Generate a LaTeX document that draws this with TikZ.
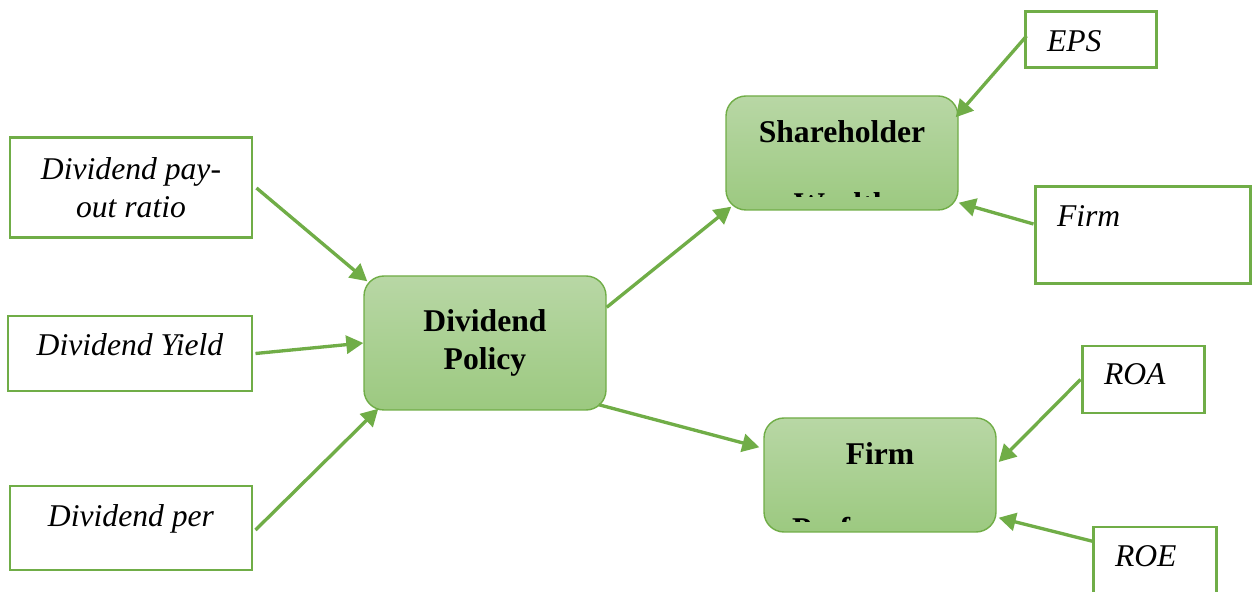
\documentclass[tikz,border=0pt]{standalone}
\usepackage{fontspec}
\setmainfont{Liberation Serif}
\usepackage{tikz}
\usetikzlibrary{arrows.meta,calc}
\definecolor{leafG}{RGB}{112,173,71}
\definecolor{topG}{RGB}{184,215,165}
\definecolor{botG}{RGB}{156,201,128}

\begin{document}
\begin{tikzpicture}[
  leaf/.style={draw=leafG,line width=1.7pt,fill=white,align=center,inner sep=0pt,
               font=\fontsize{18}{21.5}\selectfont\itshape},
  rleaf/.style={leaf,align=left,inner xsep=0.44cm},
  hub/.style={rounded corners=0.4cm,draw=leafG,line width=0.8pt,
              top color=topG,bottom color=botG,align=center,inner sep=0pt,
              font=\fontsize{18}{21.5}\selectfont\bfseries},
  arr/.style={-{Triangle[length=0.34cm,width=0.36cm]},line width=1.9pt,leafG}
]
  \useasboundingbox (0,0) rectangle (25.06,11.84);

  % Left column: dividend measures
  \node[leaf,minimum width=4.84cm,minimum height=2.0cm] (payout) at (2.62,8.08)
    {Dividend pay-\\out ratio};
  \node[leaf,minimum width=4.88cm,minimum height=1.5cm,
        text height=0.6cm,text depth=0.5cm] (yield) at (2.60,4.77)
    {Dividend Yield};
  \node[leaf,minimum width=4.84cm,minimum height=1.68cm,
        text height=0.6cm,text depth=0.66cm] (pershare) at (2.62,1.28)
    {Dividend per};

  % Centre box
  \node[hub,minimum width=4.84cm,minimum height=2.68cm] (policy) at (9.70,4.98)
    {Dividend\\Policy};

  % Outcome boxes
  \node[hub,minimum width=4.64cm,minimum height=2.28cm,
        text height=0.6cm,text depth=1.0cm] (wealth) at (16.84,8.78)
    {Shareholder};
  \node[hub,minimum width=4.64cm,minimum height=2.28cm,
        text height=0.6cm,text depth=1.02cm] (perf) at (17.60,2.34)
    {Firm};

  % second lines, cut off by the box text area
  \begin{scope}
    \clip (wealth.north west) rectangle ([yshift=0.28cm]wealth.south east);
    \node[font=\fontsize{18}{21.5}\selectfont\bfseries,anchor=base] (wealthB)
      at (16.84,7.54) {Wealth};
  \end{scope}
  \begin{scope}
    \clip (perf.north west) rectangle ([yshift=0.22cm]perf.south east);
    \node[font=\fontsize{18}{21.5}\selectfont\bfseries,anchor=base] (perfB)
      at (17.60,1.04) {Performance};
  \end{scope}

  % Right column: measures
  \node[rleaf,text width=1.74cm,minimum height=1.12cm,
        text height=0.6cm,text depth=0.12cm] (eps) at (21.81,11.04) {EPS};
  \node[rleaf,text width=3.42cm,minimum height=1.94cm,
        text height=0.6cm,text depth=0.94cm] (size) at (22.85,7.13) {Firm};
  \node[rleaf,text width=1.56cm,minimum height=1.34cm,
        text height=0.6cm,text depth=0.38cm] (roa) at (22.86,4.25) {ROA};
  \node[rleaf,text width=1.58cm,minimum height=1.6cm,
        text height=0.6cm,text depth=0.6cm] (roe) at (23.09,0.50) {ROE};

  % Arrows into the policy box
  \draw[arr] ([xshift=0.06cm]payout.east) -- ($(policy.north west)+(0.08,-0.12)$);
  \draw[arr] ([xshift=0.04cm]yield.east) -- (policy.west);
  \draw[arr] ([xshift=0.04cm,yshift=-0.04cm]pershare.east)
    -- ($(policy.south west)+(0.30,0.04)$);

  % Arrows out of the policy box
  \draw[arr] ([yshift=-0.64cm]policy.north east) -- ($(wealth.south west)+(0.12,0.08)$);
  \draw[arr] ($(policy.south east)+(-0.16,0.12)$) -- ($(perf.north west)+(-0.08,-0.60)$);

  % Arrows from the measures
  \draw[arr] ($(eps.west)+(0.06,0.08)$) -- ($(wealth.north east)+(-0.06,-0.44)$);
  \draw[arr] ([yshift=0.23cm]size.west) -- ([yshift=0.16cm]wealth.south east);
  \draw[arr] (roa.west) -- ($(perf.east)+(0.04,0.26)$);
  \draw[arr] ($(roe.north west)+(0.04,-0.32)$) -- ($(perf.south east)+(0.04,0.30)$);
\end{tikzpicture}
\end{document}
